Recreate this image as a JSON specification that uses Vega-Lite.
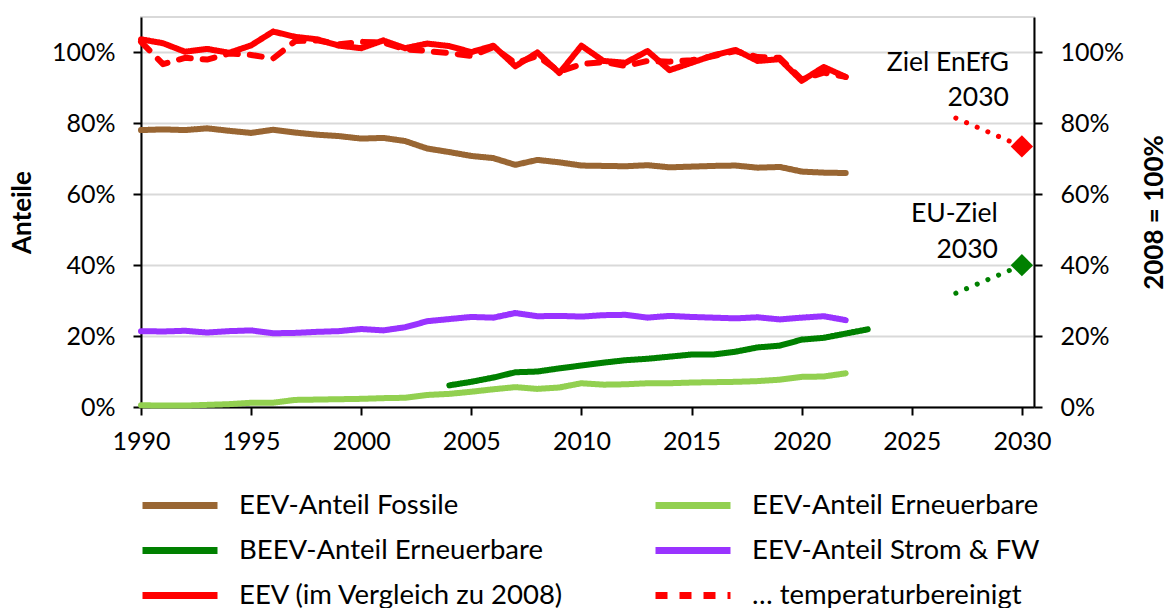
{
  "$schema": "https://vega.github.io/schema/vega-lite/v6.json",
  "width": 893,
  "height": 390,
  "autosize": {"type": "none"},
  "padding": {"left": 141, "top": 17, "right": 134, "bottom": 201},
  "background": "white",
  "config": {
    "font": "Lato",
    "view": {"stroke": "#D9D9D9", "strokeWidth": 2},
    "axis": {
      "labelFont": "Lato", "labelFontSize": 25, "labelColor": "black",
      "titleFont": "Lato", "titleFontSize": 26, "titleFontWeight": "bold", "titleColor": "black",
      "domainColor": "black", "domainWidth": 2, "tickColor": "black", "tickWidth": 2, "tickSize": 8,
      "gridColor": "#D9D9D9", "gridWidth": 2
    },
    "legend": {
      "orient": "none", "legendX": -2, "legendY": 466, "direction": "horizontal", "columns": 2, "columnPadding": 87, "rowPadding": 0,
      "clipHeight": 45, "symbolType": "stroke", "symbolSize": 5625, "symbolStrokeWidth": 7,
      "labelFont": "Lato", "labelFontSize": 27.5, "labelColor": "black", "labelOffset": 18, "labelLimit": 600, "padding": 0
    }
  },
  "datasets": {
    "series": [
      {"series": "EEV-Anteil Fossile", "year": 1990, "value": 0.781},
      {"series": "EEV-Anteil Fossile", "year": 1991, "value": 0.783},
      {"series": "EEV-Anteil Fossile", "year": 1992, "value": 0.781},
      {"series": "EEV-Anteil Fossile", "year": 1993, "value": 0.786},
      {"series": "EEV-Anteil Fossile", "year": 1994, "value": 0.779},
      {"series": "EEV-Anteil Fossile", "year": 1995, "value": 0.773},
      {"series": "EEV-Anteil Fossile", "year": 1996, "value": 0.782},
      {"series": "EEV-Anteil Fossile", "year": 1997, "value": 0.774},
      {"series": "EEV-Anteil Fossile", "year": 1998, "value": 0.768},
      {"series": "EEV-Anteil Fossile", "year": 1999, "value": 0.764},
      {"series": "EEV-Anteil Fossile", "year": 2000, "value": 0.757},
      {"series": "EEV-Anteil Fossile", "year": 2001, "value": 0.759},
      {"series": "EEV-Anteil Fossile", "year": 2002, "value": 0.750},
      {"series": "EEV-Anteil Fossile", "year": 2003, "value": 0.729},
      {"series": "EEV-Anteil Fossile", "year": 2004, "value": 0.719},
      {"series": "EEV-Anteil Fossile", "year": 2005, "value": 0.708},
      {"series": "EEV-Anteil Fossile", "year": 2006, "value": 0.702},
      {"series": "EEV-Anteil Fossile", "year": 2007, "value": 0.683},
      {"series": "EEV-Anteil Fossile", "year": 2008, "value": 0.697},
      {"series": "EEV-Anteil Fossile", "year": 2009, "value": 0.690},
      {"series": "EEV-Anteil Fossile", "year": 2010, "value": 0.681},
      {"series": "EEV-Anteil Fossile", "year": 2011, "value": 0.680},
      {"series": "EEV-Anteil Fossile", "year": 2012, "value": 0.679},
      {"series": "EEV-Anteil Fossile", "year": 2013, "value": 0.682},
      {"series": "EEV-Anteil Fossile", "year": 2014, "value": 0.676},
      {"series": "EEV-Anteil Fossile", "year": 2015, "value": 0.678},
      {"series": "EEV-Anteil Fossile", "year": 2016, "value": 0.680},
      {"series": "EEV-Anteil Fossile", "year": 2017, "value": 0.681},
      {"series": "EEV-Anteil Fossile", "year": 2018, "value": 0.675},
      {"series": "EEV-Anteil Fossile", "year": 2019, "value": 0.677},
      {"series": "EEV-Anteil Fossile", "year": 2020, "value": 0.664},
      {"series": "EEV-Anteil Fossile", "year": 2021, "value": 0.661},
      {"series": "EEV-Anteil Fossile", "year": 2022, "value": 0.660},

      {"series": "EEV-Anteil Erneuerbare", "year": 1990, "value": 0.005},
      {"series": "EEV-Anteil Erneuerbare", "year": 1991, "value": 0.004},
      {"series": "EEV-Anteil Erneuerbare", "year": 1992, "value": 0.004},
      {"series": "EEV-Anteil Erneuerbare", "year": 1993, "value": 0.006},
      {"series": "EEV-Anteil Erneuerbare", "year": 1994, "value": 0.008},
      {"series": "EEV-Anteil Erneuerbare", "year": 1995, "value": 0.012},
      {"series": "EEV-Anteil Erneuerbare", "year": 1996, "value": 0.012},
      {"series": "EEV-Anteil Erneuerbare", "year": 1997, "value": 0.020},
      {"series": "EEV-Anteil Erneuerbare", "year": 1998, "value": 0.021},
      {"series": "EEV-Anteil Erneuerbare", "year": 1999, "value": 0.022},
      {"series": "EEV-Anteil Erneuerbare", "year": 2000, "value": 0.023},
      {"series": "EEV-Anteil Erneuerbare", "year": 2001, "value": 0.025},
      {"series": "EEV-Anteil Erneuerbare", "year": 2002, "value": 0.026},
      {"series": "EEV-Anteil Erneuerbare", "year": 2003, "value": 0.034},
      {"series": "EEV-Anteil Erneuerbare", "year": 2004, "value": 0.037},
      {"series": "EEV-Anteil Erneuerbare", "year": 2005, "value": 0.043},
      {"series": "EEV-Anteil Erneuerbare", "year": 2006, "value": 0.050},
      {"series": "EEV-Anteil Erneuerbare", "year": 2007, "value": 0.056},
      {"series": "EEV-Anteil Erneuerbare", "year": 2008, "value": 0.051},
      {"series": "EEV-Anteil Erneuerbare", "year": 2009, "value": 0.055},
      {"series": "EEV-Anteil Erneuerbare", "year": 2010, "value": 0.067},
      {"series": "EEV-Anteil Erneuerbare", "year": 2011, "value": 0.063},
      {"series": "EEV-Anteil Erneuerbare", "year": 2012, "value": 0.064},
      {"series": "EEV-Anteil Erneuerbare", "year": 2013, "value": 0.067},
      {"series": "EEV-Anteil Erneuerbare", "year": 2014, "value": 0.067},
      {"series": "EEV-Anteil Erneuerbare", "year": 2015, "value": 0.069},
      {"series": "EEV-Anteil Erneuerbare", "year": 2016, "value": 0.070},
      {"series": "EEV-Anteil Erneuerbare", "year": 2017, "value": 0.071},
      {"series": "EEV-Anteil Erneuerbare", "year": 2018, "value": 0.073},
      {"series": "EEV-Anteil Erneuerbare", "year": 2019, "value": 0.077},
      {"series": "EEV-Anteil Erneuerbare", "year": 2020, "value": 0.085},
      {"series": "EEV-Anteil Erneuerbare", "year": 2021, "value": 0.086},
      {"series": "EEV-Anteil Erneuerbare", "year": 2022, "value": 0.095},

      {"series": "BEEV-Anteil Erneuerbare", "year": 2004, "value": 0.061},
      {"series": "BEEV-Anteil Erneuerbare", "year": 2005, "value": 0.071},
      {"series": "BEEV-Anteil Erneuerbare", "year": 2006, "value": 0.083},
      {"series": "BEEV-Anteil Erneuerbare", "year": 2007, "value": 0.098},
      {"series": "BEEV-Anteil Erneuerbare", "year": 2008, "value": 0.100},
      {"series": "BEEV-Anteil Erneuerbare", "year": 2009, "value": 0.109},
      {"series": "BEEV-Anteil Erneuerbare", "year": 2010, "value": 0.117},
      {"series": "BEEV-Anteil Erneuerbare", "year": 2011, "value": 0.125},
      {"series": "BEEV-Anteil Erneuerbare", "year": 2012, "value": 0.132},
      {"series": "BEEV-Anteil Erneuerbare", "year": 2013, "value": 0.136},
      {"series": "BEEV-Anteil Erneuerbare", "year": 2014, "value": 0.142},
      {"series": "BEEV-Anteil Erneuerbare", "year": 2015, "value": 0.148},
      {"series": "BEEV-Anteil Erneuerbare", "year": 2016, "value": 0.148},
      {"series": "BEEV-Anteil Erneuerbare", "year": 2017, "value": 0.156},
      {"series": "BEEV-Anteil Erneuerbare", "year": 2018, "value": 0.168},
      {"series": "BEEV-Anteil Erneuerbare", "year": 2019, "value": 0.173},
      {"series": "BEEV-Anteil Erneuerbare", "year": 2020, "value": 0.190},
      {"series": "BEEV-Anteil Erneuerbare", "year": 2021, "value": 0.195},
      {"series": "BEEV-Anteil Erneuerbare", "year": 2022, "value": 0.207},
      {"series": "BEEV-Anteil Erneuerbare", "year": 2023, "value": 0.219},

      {"series": "EEV-Anteil Strom & FW", "year": 1990, "value": 0.214},
      {"series": "EEV-Anteil Strom & FW", "year": 1991, "value": 0.213},
      {"series": "EEV-Anteil Strom & FW", "year": 1992, "value": 0.215},
      {"series": "EEV-Anteil Strom & FW", "year": 1993, "value": 0.210},
      {"series": "EEV-Anteil Strom & FW", "year": 1994, "value": 0.214},
      {"series": "EEV-Anteil Strom & FW", "year": 1995, "value": 0.216},
      {"series": "EEV-Anteil Strom & FW", "year": 1996, "value": 0.208},
      {"series": "EEV-Anteil Strom & FW", "year": 1997, "value": 0.209},
      {"series": "EEV-Anteil Strom & FW", "year": 1998, "value": 0.212},
      {"series": "EEV-Anteil Strom & FW", "year": 1999, "value": 0.214},
      {"series": "EEV-Anteil Strom & FW", "year": 2000, "value": 0.220},
      {"series": "EEV-Anteil Strom & FW", "year": 2001, "value": 0.216},
      {"series": "EEV-Anteil Strom & FW", "year": 2002, "value": 0.225},
      {"series": "EEV-Anteil Strom & FW", "year": 2003, "value": 0.242},
      {"series": "EEV-Anteil Strom & FW", "year": 2004, "value": 0.248},
      {"series": "EEV-Anteil Strom & FW", "year": 2005, "value": 0.254},
      {"series": "EEV-Anteil Strom & FW", "year": 2006, "value": 0.252},
      {"series": "EEV-Anteil Strom & FW", "year": 2007, "value": 0.265},
      {"series": "EEV-Anteil Strom & FW", "year": 2008, "value": 0.256},
      {"series": "EEV-Anteil Strom & FW", "year": 2009, "value": 0.257},
      {"series": "EEV-Anteil Strom & FW", "year": 2010, "value": 0.255},
      {"series": "EEV-Anteil Strom & FW", "year": 2011, "value": 0.259},
      {"series": "EEV-Anteil Strom & FW", "year": 2012, "value": 0.260},
      {"series": "EEV-Anteil Strom & FW", "year": 2013, "value": 0.252},
      {"series": "EEV-Anteil Strom & FW", "year": 2014, "value": 0.257},
      {"series": "EEV-Anteil Strom & FW", "year": 2015, "value": 0.254},
      {"series": "EEV-Anteil Strom & FW", "year": 2016, "value": 0.252},
      {"series": "EEV-Anteil Strom & FW", "year": 2017, "value": 0.250},
      {"series": "EEV-Anteil Strom & FW", "year": 2018, "value": 0.253},
      {"series": "EEV-Anteil Strom & FW", "year": 2019, "value": 0.247},
      {"series": "EEV-Anteil Strom & FW", "year": 2020, "value": 0.252},
      {"series": "EEV-Anteil Strom & FW", "year": 2021, "value": 0.256},
      {"series": "EEV-Anteil Strom & FW", "year": 2022, "value": 0.245},

      {"series": "… temperaturbereinigt", "year": 1990, "value": 1.030},
      {"series": "… temperaturbereinigt", "year": 1991, "value": 0.967},
      {"series": "… temperaturbereinigt", "year": 1992, "value": 0.985},
      {"series": "… temperaturbereinigt", "year": 1993, "value": 0.980},
      {"series": "… temperaturbereinigt", "year": 1994, "value": 0.997},
      {"series": "… temperaturbereinigt", "year": 1995, "value": 0.993},
      {"series": "… temperaturbereinigt", "year": 1996, "value": 0.983},
      {"series": "… temperaturbereinigt", "year": 1997, "value": 1.032},
      {"series": "… temperaturbereinigt", "year": 1998, "value": 1.034},
      {"series": "… temperaturbereinigt", "year": 1999, "value": 1.023},
      {"series": "… temperaturbereinigt", "year": 2000, "value": 1.030},
      {"series": "… temperaturbereinigt", "year": 2001, "value": 1.028},
      {"series": "… temperaturbereinigt", "year": 2002, "value": 1.009},
      {"series": "… temperaturbereinigt", "year": 2003, "value": 1.004},
      {"series": "… temperaturbereinigt", "year": 2004, "value": 0.998},
      {"series": "… temperaturbereinigt", "year": 2005, "value": 0.990},
      {"series": "… temperaturbereinigt", "year": 2006, "value": 1.015},
      {"series": "… temperaturbereinigt", "year": 2007, "value": 0.970},
      {"series": "… temperaturbereinigt", "year": 2008, "value": 0.990},
      {"series": "… temperaturbereinigt", "year": 2009, "value": 0.946},
      {"series": "… temperaturbereinigt", "year": 2010, "value": 0.967},
      {"series": "… temperaturbereinigt", "year": 2011, "value": 0.973},
      {"series": "… temperaturbereinigt", "year": 2012, "value": 0.962},
      {"series": "… temperaturbereinigt", "year": 2013, "value": 0.976},
      {"series": "… temperaturbereinigt", "year": 2014, "value": 0.974},
      {"series": "… temperaturbereinigt", "year": 2015, "value": 0.978},
      {"series": "… temperaturbereinigt", "year": 2016, "value": 0.990},
      {"series": "… temperaturbereinigt", "year": 2017, "value": 1.004},
      {"series": "… temperaturbereinigt", "year": 2018, "value": 0.987},
      {"series": "… temperaturbereinigt", "year": 2019, "value": 0.985},
      {"series": "… temperaturbereinigt", "year": 2020, "value": 0.924},
      {"series": "… temperaturbereinigt", "year": 2021, "value": 0.943},
      {"series": "… temperaturbereinigt", "year": 2022, "value": 0.931},

      {"series": "EEV (im Vergleich zu 2008)", "year": 1990, "value": 1.037},
      {"series": "EEV (im Vergleich zu 2008)", "year": 1991, "value": 1.026},
      {"series": "EEV (im Vergleich zu 2008)", "year": 1992, "value": 1.002},
      {"series": "EEV (im Vergleich zu 2008)", "year": 1993, "value": 1.010},
      {"series": "EEV (im Vergleich zu 2008)", "year": 1994, "value": 0.999},
      {"series": "EEV (im Vergleich zu 2008)", "year": 1995, "value": 1.020},
      {"series": "EEV (im Vergleich zu 2008)", "year": 1996, "value": 1.059},
      {"series": "EEV (im Vergleich zu 2008)", "year": 1997, "value": 1.044},
      {"series": "EEV (im Vergleich zu 2008)", "year": 1998, "value": 1.037},
      {"series": "EEV (im Vergleich zu 2008)", "year": 1999, "value": 1.019},
      {"series": "EEV (im Vergleich zu 2008)", "year": 2000, "value": 1.012},
      {"series": "EEV (im Vergleich zu 2008)", "year": 2001, "value": 1.034},
      {"series": "EEV (im Vergleich zu 2008)", "year": 2002, "value": 1.012},
      {"series": "EEV (im Vergleich zu 2008)", "year": 2003, "value": 1.025},
      {"series": "EEV (im Vergleich zu 2008)", "year": 2004, "value": 1.018},
      {"series": "EEV (im Vergleich zu 2008)", "year": 2005, "value": 1.001},
      {"series": "EEV (im Vergleich zu 2008)", "year": 2006, "value": 1.019},
      {"series": "EEV (im Vergleich zu 2008)", "year": 2007, "value": 0.961},
      {"series": "EEV (im Vergleich zu 2008)", "year": 2008, "value": 1.000},
      {"series": "EEV (im Vergleich zu 2008)", "year": 2009, "value": 0.942},
      {"series": "EEV (im Vergleich zu 2008)", "year": 2010, "value": 1.019},
      {"series": "EEV (im Vergleich zu 2008)", "year": 2011, "value": 0.976},
      {"series": "EEV (im Vergleich zu 2008)", "year": 2012, "value": 0.971},
      {"series": "EEV (im Vergleich zu 2008)", "year": 2013, "value": 1.004},
      {"series": "EEV (im Vergleich zu 2008)", "year": 2014, "value": 0.950},
      {"series": "EEV (im Vergleich zu 2008)", "year": 2015, "value": 0.971},
      {"series": "EEV (im Vergleich zu 2008)", "year": 2016, "value": 0.992},
      {"series": "EEV (im Vergleich zu 2008)", "year": 2017, "value": 1.007},
      {"series": "EEV (im Vergleich zu 2008)", "year": 2018, "value": 0.976},
      {"series": "EEV (im Vergleich zu 2008)", "year": 2019, "value": 0.981},
      {"series": "EEV (im Vergleich zu 2008)", "year": 2020, "value": 0.920},
      {"series": "EEV (im Vergleich zu 2008)", "year": 2021, "value": 0.959},
      {"series": "EEV (im Vergleich zu 2008)", "year": 2022, "value": 0.931}
    ],
    "targets": [
      {"goal": "EnEfG", "col": "#FF0000", "year": 2027, "value": 0.815},
      {"goal": "EnEfG", "col": "#FF0000", "year": 2030, "value": 0.735},
      {"goal": "EU", "col": "#008000", "year": 2027, "value": 0.321},
      {"goal": "EU", "col": "#008000", "year": 2030, "value": 0.400}
    ],
    "goals": [
      {"goal": "EnEfG", "col": "#FF0000", "year": 2030, "value": 0.735},
      {"goal": "EU", "col": "#008000", "year": 2030, "value": 0.400}
    ],
    "notes": [
      {"label": "Ziel EnEfG", "year": 2029.41, "value": 0.971},
      {"label": "2030", "year": 2029.41, "value": 0.871},
      {"label": "EU-Ziel", "year": 2028.91, "value": 0.543},
      {"label": "2030", "year": 2028.91, "value": 0.442}
    ]
  },
  "encoding": {
    "x": {
      "field": "year", "type": "quantitative",
      "scale": {"domain": [1990, 2030.55], "nice": false, "zero": false},
      "axis": {"values": [1990, 1995, 2000, 2005, 2010, 2015, 2020, 2025, 2030], "format": "d", "grid": false, "title": null, "labelPadding": 14, "labelFlush": false}
    }
  },
  "layer": [
    {
      "encoding": {
        "y": {
          "field": "value", "type": "quantitative",
          "scale": {"domain": [0, 1.1], "nice": false, "zero": true},
          "axis": {"values": [0, 0.2, 0.4, 0.6, 0.8, 1.0], "format": ".0%", "title": "Anteile", "labelPadding": 18, "titlePadding": 16, "grid": true}
        }
      },
      "layer": [
        {
          "data": {"name": "series"},
          "mark": {"type": "line", "strokeWidth": 6, "strokeCap": "round", "strokeJoin": "round"},
          "encoding": {
            "color": {
              "field": "series", "type": "nominal", "title": null,
              "scale": {
                "domain": ["EEV-Anteil Fossile", "EEV-Anteil Erneuerbare", "BEEV-Anteil Erneuerbare", "EEV-Anteil Strom & FW", "EEV (im Vergleich zu 2008)", "… temperaturbereinigt"],
                "range": ["#996633", "#92D050", "#008000", "#9933FF", "#FF0000", "#FF0000"]
              }
            },
            "strokeDash": {
              "field": "series", "type": "nominal", "title": null,
              "scale": {
                "domain": ["EEV-Anteil Fossile", "EEV-Anteil Erneuerbare", "BEEV-Anteil Erneuerbare", "EEV-Anteil Strom & FW", "EEV (im Vergleich zu 2008)", "… temperaturbereinigt"],
                "range": [[1, 0], [1, 0], [1, 0], [1, 0], [1, 0], [12, 12]]
              }
            }
          }
        },
        {
          "data": {"name": "targets"},
          "mark": {"type": "line", "strokeWidth": 5, "strokeCap": "round", "strokeDash": [0.1, 11.5]},
          "encoding": {
            "stroke": {"field": "col", "type": "nominal", "scale": null, "legend": null},
            "detail": {"field": "goal"}
          }
        },
        {
          "data": {"name": "notes"},
          "mark": {"type": "text", "align": "right", "baseline": "middle", "fontSize": 26.5, "font": "Lato", "color": "black"},
          "encoding": {"text": {"field": "label"}}
        }
      ]
    },
    {
      "data": {"name": "goals"},
      "mark": {"type": "point", "shape": "diamond", "filled": true, "size": 500, "opacity": 1},
      "encoding": {
        "y": {
          "field": "value", "type": "quantitative",
          "scale": {"domain": [0, 1.1], "nice": false, "zero": true},
          "axis": {"orient": "right", "values": [0, 0.2, 0.4, 0.6, 0.8, 1.0], "format": ".0%", "title": "2008 = 100%", "titleAngle": -90, "titleBaseline": "top", "labelPadding": 18, "titlePadding": 18, "grid": false}
        },
        "fill": {"field": "col", "type": "nominal", "scale": null, "legend": null}
      }
    }
  ],
  "resolve": {"axis": {"y": "independent"}}
}
